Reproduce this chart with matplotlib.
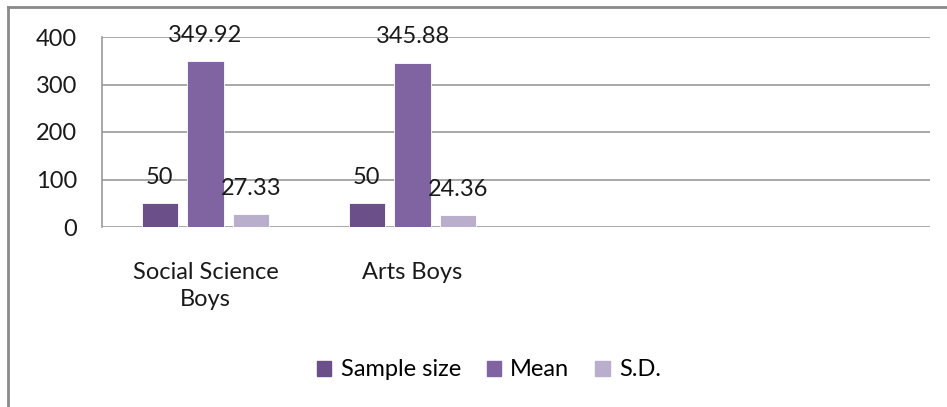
import matplotlib
matplotlib.use("Agg")
import matplotlib.pyplot as plt
import numpy as np
from matplotlib.lines import Line2D

plt.rcParams['font.family'] = ['Lato', 'DejaVu Sans']

categories = ["Social Science\nBoys", "Arts Boys", "", ""]
series_names = ["Sample size", "Mean", "S.D."]
sample_size = [50, 50]
mean = [349.92, 345.88]
sd = [27.33, 24.36]
value_labels = [["50", "50"], ["349.92", "345.88"], ["27.33", "24.36"]]
colors = ["#6b4f88", "#8064a2", "#b9aecc"]
yticks = [0, 100, 200, 300, 400]

FS = 17
TXT = "#1a1a1a"

fig = plt.figure(figsize=(9.47, 4.07), dpi=100)
ax = fig.add_axes([102 / 947, 1 - 227 / 407, (930 - 102) / 947, (227 - 37) / 407])

x = np.arange(len(sample_size))
width = 0.174
step = 0.222
handles = []
for i, (vals, name, col, labs) in enumerate(zip([sample_size, mean, sd], series_names, colors, value_labels)):
    pos = x + (i - 1) * step
    bars = ax.bar(pos, vals, width=width, color=col, edgecolor="white", linewidth=0.6, zorder=3, label=name)
    for b, lab in zip(bars, labs):
        ax.annotate(lab, (b.get_x() + b.get_width() / 2, b.get_height()),
                    xytext=(0, 11), textcoords="offset points", ha="center", va="bottom",
                    fontsize=FS, color=TXT, zorder=4)
    handles.append(plt.Rectangle((0, 0), 1, 1, color=col))

ax.set_xlim(-0.5, len(categories) - 0.5)
ax.set_ylim(0, 400)
ax.set_yticks(yticks)
ax.set_yticklabels([str(t) for t in yticks], fontsize=FS, color=TXT)
ax.set_xticks(np.arange(len(categories)))
ax.set_xticklabels(categories, fontsize=FS, color=TXT, linespacing=1.35)
ax.tick_params(axis="y", length=0, pad=18)
ax.tick_params(axis="x", length=0, pad=25)
ax.yaxis.grid(True, color="#9a9a9a", linewidth=1.2, zorder=0)
ax.set_axisbelow(True)
for s in ["top", "right", "bottom"]:
    ax.spines[s].set_visible(False)
ax.spines["left"].set_color("#9a9a9a")
ax.spines["left"].set_linewidth(1.2)

fig.legend(handles, series_names, loc="center", bbox_to_anchor=(489 / 947, 1 - 370 / 407),
           ncol=3, frameon=False, fontsize=FS, handlelength=0.6, handleheight=0.6,
           handletextpad=0.4, columnspacing=1.1)

# outer chart frame (top and left edges)
fig.add_artist(Line2D([8 / 947, 8 / 947], [0, 1 - 7 / 407], transform=fig.transFigure,
                      color="#8a8a8a", linewidth=2))
fig.add_artist(Line2D([8 / 947, 1], [1 - 7 / 407, 1 - 7 / 407], transform=fig.transFigure,
                      color="#8a8a8a", linewidth=2))

fig.savefig("out.png", dpi=100, facecolor="white")
